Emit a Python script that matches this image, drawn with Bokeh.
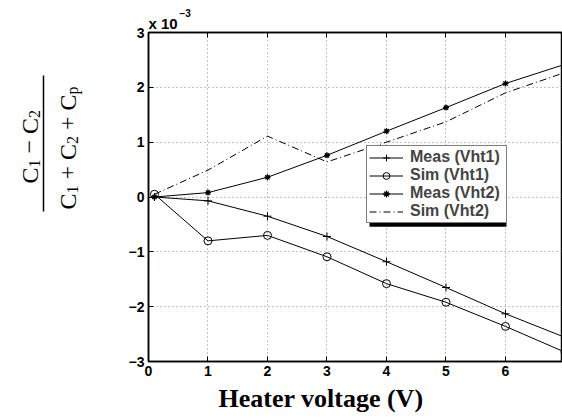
import math
from bokeh.plotting import figure
from bokeh.layouts import row
from bokeh.models import (Range1d, FixedTicker, Legend, LegendItem, BoxAnnotation, Title,
                          LinearAxis)
from bokeh.core.properties import value
from bokeh.embed import file_html
from bokeh.resources import INLINE

# Data (y values in units of 1e-3)
voltage = [0.1, 1, 2, 3, 4, 5, 6, 7]
meas_vht1 = [0.0, -0.07, -0.35, -0.72, -1.18, -1.65, -2.13, -2.56]
sim_vht1 = [0.05, -0.80, -0.70, -1.09, -1.58, -1.92, -2.36, -2.83]
meas_vht2 = [0.0, 0.08, 0.36, 0.76, 1.20, 1.63, 2.07, 2.42]
sim_vht2 = [0.05, 0.49, 1.11, 0.64, 1.00, 1.37, 1.90, 2.27]

x_ticks = [0, 1, 2, 3, 4, 5, 6, 7]
y_ticks = [-3, -2, -1, 0, 1, 2, 3]
y_tick_labels = {t: (str(t) if t >= 0 else "\u2212" + str(-t)) for t in y_ticks}
legend_labels = ["Meas (Vht1)", "Sim (Vht1)", "Meas (Vht2)", "Sim (Vht2)"]
x_label = "Heater voltage (V)"
# y label: (C1 - C2) / (C1 + C2 + Cp), pieces as (text, is_subscript)
y_num = [("C", False), ("1", True), ("\u2212", False), ("C", False), ("2", True)]
y_den = [("C", False), ("1", True), ("+", False), ("C", False), ("2", True),
         ("+", False), ("C", False), ("p", True)]

SANS = "Liberation Sans"
SERIF = "Liberation Serif"

H = 418
LEFT_W = 100
TOP_B = 32      # frame top (px)
BOT_B = 57      # space below frame (px)
MAIN_SIZE = 24
SUB_SIZE = 16
# Times-metric advance widths (em) for laying out the rotated label pieces
EM = {"C": 0.667, "1": 0.5, "2": 0.5, "p": 0.5, "\u2212": 0.564, "+": 0.564}
GAP = 6  # space around operators, px

# ---- left strip holding the fraction-style y label ----
# (the row aligns its frame with the main plot's frame, so map page-pixel rows onto it)
lab = figure(width=LEFT_W, height=H, x_range=Range1d(0, LEFT_W),
             y_range=Range1d(BOT_B, H - TOP_B), output_backend="svg",
             toolbar_location=None, title=None,
             x_axis_location=None, y_axis_location=None, min_border=0,
             min_border_top=TOP_B, min_border_bottom=BOT_B)
lab.outline_line_color = None
lab.grid.visible = False
lab.background_fill_color = "white"
lab.border_fill_color = "white"


def draw_rotated(pieces, base_x, start_y):
    y = H - start_y
    for txt, sub in pieces:
        size = SUB_SIZE if sub else MAIN_SIZE
        is_op = txt in ("+", "\u2212")
        if is_op:
            y += GAP
        bx = base_x + (5 if sub else 0)
        lab.text(x=[bx], y=[y], text=[txt], angle=math.pi / 2,
                 text_font=value(SERIF), text_font_size=f"{size}px", text_color="black",
                 text_align="left", text_baseline="alphabetic")
        y += EM[txt] * size
        if is_op:
            y += GAP


draw_rotated(y_num, 29, 183)
draw_rotated(y_den, 67, 209)
lab.segment(x0=[43], y0=[H - 75], x1=[43], y1=[H - 211], line_color="black", line_width=1.5)

# ---- main plot ----
p = figure(width=562 - LEFT_W, height=H, x_range=Range1d(0, 6.958), y_range=Range1d(-3, 3),
           output_backend="svg", toolbar_location=None, title=None,
           min_border_left=148 - LEFT_W, min_border_right=0, min_border_top=TOP_B,
           min_border_bottom=BOT_B)
p.background_fill_color = "white"
p.border_fill_color = "white"
p.outline_line_color = "black"
p.outline_line_width = 1.5

x_axis = p.xaxis[0]
y_axis = p.yaxis[0]
top_axis = LinearAxis(ticker=FixedTicker(ticks=x_ticks), major_label_text_font_size="0px",
                      major_label_standoff=0, major_tick_in=5, major_tick_out=0,
                      minor_tick_line_color=None, axis_line_width=1.5,
                      major_label_text_alpha=0)
p.add_layout(top_axis, "above")

for ax in (x_axis, y_axis):
    ax.major_tick_in = 5
    ax.major_tick_out = 0
    ax.minor_tick_line_color = None
    ax.axis_line_width = 1.5
    ax.major_tick_line_width = 1
    ax.major_label_text_font = SANS
    ax.major_label_text_font_style = "bold"
    ax.major_label_text_font_size = "14px"
    ax.major_label_text_color = "black"
    ax.major_label_standoff = 4
x_axis.ticker = FixedTicker(ticks=x_ticks)
y_axis.ticker = FixedTicker(ticks=y_ticks)
y_axis.major_label_overrides = y_tick_labels

p.xgrid.ticker = FixedTicker(ticks=x_ticks)
p.ygrid.ticker = FixedTicker(ticks=y_ticks)
p.grid.grid_line_color = "#888888"
p.grid.grid_line_dash = "1 3"
p.grid.grid_line_width = 1

l1 = p.line(voltage, meas_vht1, line_color="black", line_width=1)
m1 = p.scatter(voltage, meas_vht1, marker="cross", size=8, line_color="black", line_width=1)
l2 = p.line(voltage, sim_vht1, line_color="black", line_width=1)
m2 = p.scatter(voltage, sim_vht1, marker="circle", size=8, line_color="black",
               fill_alpha=0, line_width=1)
l3 = p.line(voltage, meas_vht2, line_color="black", line_width=1)
m3 = p.scatter(voltage, meas_vht2, marker="asterisk", size=6, line_color="black", line_width=1.3)
l4 = p.line(voltage, sim_vht2, line_color="black", line_width=1, line_dash="7 3 1 3")


def dx(px):
    return (px - 148) / 59.5


def dy(py):
    return (195.3 - py) / 54.83


# legend shadow
p.add_layout(BoxAnnotation(left=dx(369), right=dx(506), top=dy(151), bottom=dy(225),
                           fill_color="black", fill_alpha=1, line_color=None))

legend = Legend(items=[
    LegendItem(label=legend_labels[0], renderers=[l1, m1]),
    LegendItem(label=legend_labels[1], renderers=[l2, m2]),
    LegendItem(label=legend_labels[2], renderers=[l3, m3]),
    LegendItem(label=legend_labels[3], renderers=[l4]),
], location=(218, 138))
legend.label_text_font = SANS
legend.label_text_font_style = "bold"
legend.label_text_font_size = "16px"
legend.border_line_color = "black"
legend.border_line_width = 1.5
legend.background_fill_color = "white"
legend.background_fill_alpha = 1
legend.padding = 2
legend.spacing = 0
legend.margin = 0
legend.label_height = 17
legend.glyph_height = 17
legend.glyph_width = 34
legend.label_width = 94
legend.label_standoff = 7
p.add_layout(legend, "center")

# x label (below the axis) and the "x 10^-3" exponent (above the frame)
p.add_layout(Title(text=x_label, align="left", offset=70, text_font=SERIF, text_color="black",
                   text_font_style="bold", text_font_size="26px", standoff=6), "below")
p.add_layout(Title(text="x 10", align="left", offset=0, text_font=SANS, text_color="black",
                   text_font_style="bold", text_font_size="15px", standoff=1), "above")
p.add_layout(Title(text="\u22123", align="left", offset=31, text_font=SANS, text_color="black",
                   text_font_style="bold", text_font_size="10px", standoff=-9), "above")

open("out.html", "w").write(file_html(row(lab, p, spacing=0), INLINE))
